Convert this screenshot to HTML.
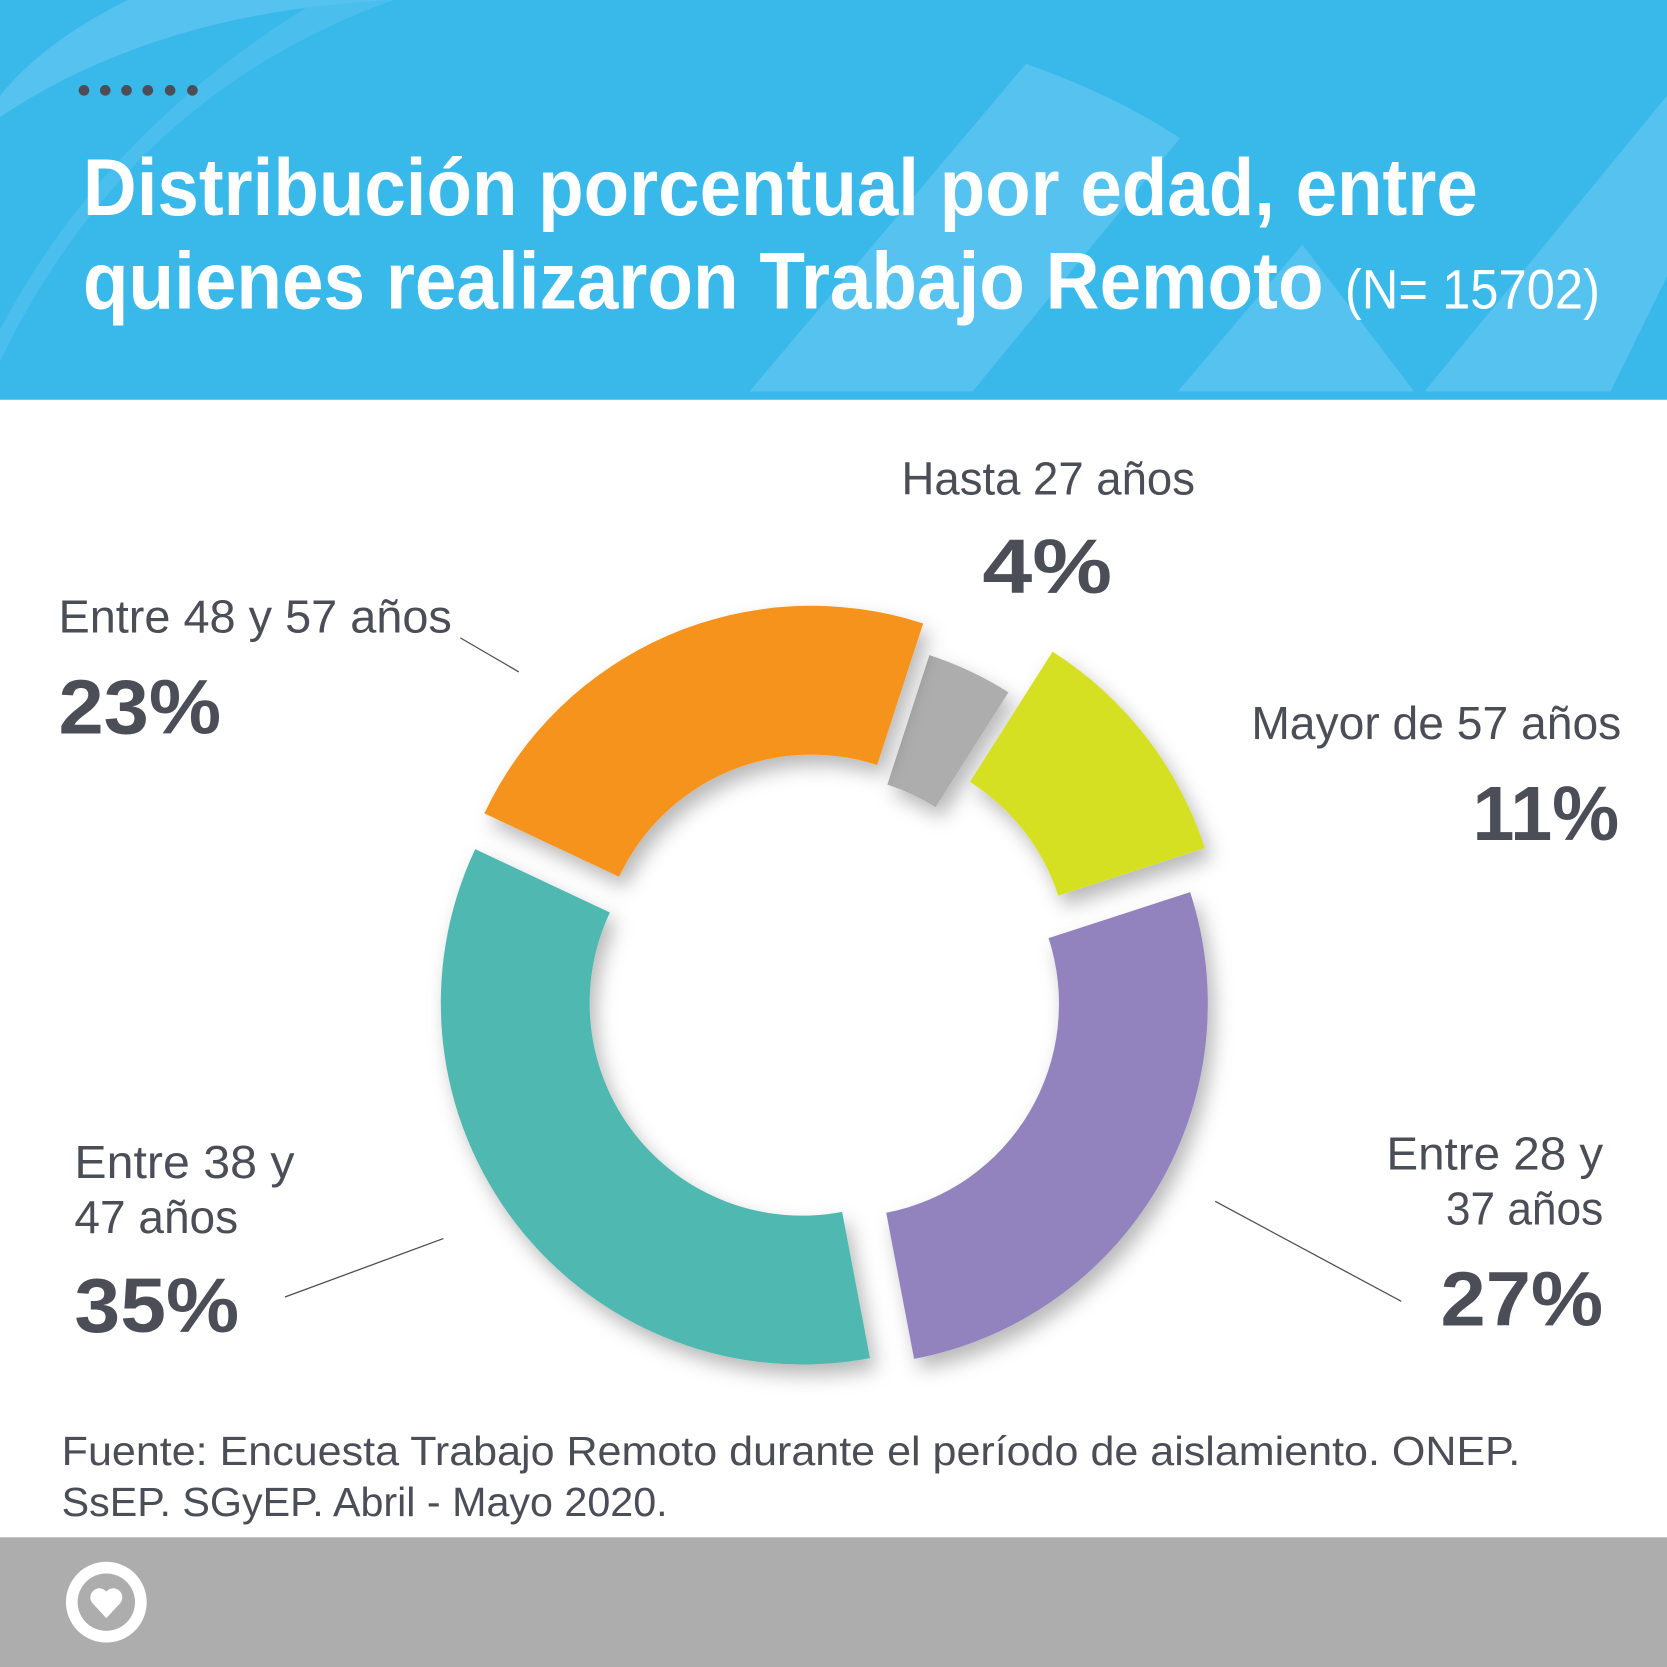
<!DOCTYPE html>
<html><head><meta charset="utf-8"><style>
html,body{margin:0;padding:0;background:#fff}
svg{display:block}
text{font-family:"Liberation Sans",sans-serif}
</style></head><body>
<svg width="1667" height="1667" viewBox="0 0 1568 1568" xmlns="http://www.w3.org/2000/svg">
<defs>
<filter id="sh" x="-20%" y="-20%" width="140%" height="140%"><feDropShadow dx="6" dy="10" stdDeviation="9" flood-color="#000" flood-opacity="0.28"/></filter>
</defs>
<rect x="0" y="0" width="1568" height="376" fill="#39b8ea"/>
<g fill="#5cc5f0" opacity="0.85">
<path d="M0 110 Q150 10 370 0 L120 0 Q40 40 0 90 Z"/>
<path d="M0 340 Q120 90 370 0 L300 0 Q100 120 0 310 Z" opacity="0.6"/>
<path d="M705 368 L965 60 Q1050 90 1110 130 L915 368 Z"/>
<path d="M1108 368 L1225 230 L1330 368 Z"/>
<path d="M1340 368 L1568 90 L1568 260 L1515 368 Z"/>
</g>
<g fill="#4b4d57">
<circle cx="79" cy="85" r="5"/><circle cx="99" cy="85" r="5"/><circle cx="119" cy="85" r="5"/><circle cx="139" cy="85" r="5"/><circle cx="160" cy="85" r="5"/><circle cx="181" cy="85" r="5"/>
</g>
<text x="78" y="202" font-size="76" font-weight="bold" fill="#fff" textLength="1312" lengthAdjust="spacingAndGlyphs">Distribución porcentual por edad, entre</text>
<text x="78" y="290" font-size="76" font-weight="bold" fill="#fff" textLength="1167" lengthAdjust="spacingAndGlyphs">quienes realizaron Trabajo Remoto</text>
<text x="1265" y="290" font-size="52" fill="#fff" textLength="240" lengthAdjust="spacingAndGlyphs">(N= 15702)</text>

<g id="donut"></g>

<g stroke="#4b4d57" stroke-width="1.2">
<line x1="433" y1="600" x2="488" y2="632"/>
<line x1="1143" y1="1130" x2="1318" y2="1224"/>
<line x1="268" y1="1220" x2="417" y2="1165"/>
</g>
<g fill="#4b4d57" font-size="44">
<text x="848" y="465" textLength="276" lengthAdjust="spacingAndGlyphs">Hasta 27 años</text>
<text x="924" y="558" font-size="72" font-weight="bold" textLength="122" lengthAdjust="spacingAndGlyphs">4%</text>
<text x="55" y="595" textLength="370" lengthAdjust="spacingAndGlyphs">Entre 48 y 57 años</text>
<text x="55" y="690" font-size="72" font-weight="bold" textLength="153" lengthAdjust="spacingAndGlyphs">23%</text>
<text x="1177" y="695" textLength="348" lengthAdjust="spacingAndGlyphs">Mayor de 57 años</text>
<text x="1385" y="790" font-size="72" font-weight="bold" textLength="138" lengthAdjust="spacingAndGlyphs">11%</text>
<text x="1304" y="1100" textLength="204" lengthAdjust="spacingAndGlyphs">Entre 28 y</text>
<text x="1360" y="1152" textLength="148" lengthAdjust="spacingAndGlyphs">37 años</text>
<text x="1355" y="1247" font-size="72" font-weight="bold" textLength="153" lengthAdjust="spacingAndGlyphs">27%</text>
<text x="70" y="1108" textLength="207" lengthAdjust="spacingAndGlyphs">Entre 38 y</text>
<text x="70" y="1160" textLength="154" lengthAdjust="spacingAndGlyphs">47 años</text>
<text x="70" y="1253" font-size="72" font-weight="bold" textLength="155" lengthAdjust="spacingAndGlyphs">35%</text>
<text x="58" y="1378" font-size="38" textLength="1372" lengthAdjust="spacingAndGlyphs">Fuente: Encuesta Trabajo Remoto durante el período de aislamiento. ONEP.</text>
<text x="58" y="1426" font-size="38" textLength="570" lengthAdjust="spacingAndGlyphs">SsEP. SGyEP. Abril - Mayo 2020.</text>
</g>
<rect x="0" y="1446" width="1568" height="122" fill="#adadad"/>
<g>
<circle cx="100" cy="1507" r="38" fill="#fff"/>
<circle cx="100" cy="1507" r="27" fill="#adadad"/>
<path d="M100 1522 L87 1508 A8 8 0 0 1 100 1497 A8 8 0 0 1 113 1508 Z" fill="#fff"/>
</g>
</svg>
<script>
const categories = ["Hasta 27 años","Mayor de 57 años","Entre 28 y 37 años","Entre 38 y 47 años","Entre 48 y 57 años"];
const values = [4, 11, 27, 35, 23];
const colors = ["#adadad","#d5e021","#9283be","#50b8b1","#f5931f"];
const explodes = [2, 42, 28, 22, 22];
const outerRadii = [328, 345, 340, 340, 340];
const cx=772, cy=930, rIn=200, startDeg=18;
const g=document.getElementById('donut');
const total=values.reduce((a,b)=>a+b,0);
function pt(r,deg,ox,oy){const a=deg*Math.PI/180;return [cx+ox+r*Math.sin(a), cy+oy-r*Math.cos(a)];}
let acc=startDeg;
values.forEach((v,i)=>{
  const a0=acc, a1=acc+v/total*360; acc=a1;
  const mid=(a0+a1)/2*Math.PI/180;
  const ex=explodes[i], rOut=outerRadii[i];
  const ox=ex*Math.sin(mid), oy=-ex*Math.cos(mid);
  const large=(a1-a0)>180?1:0;
  const p1=pt(rOut,a0,ox,oy),p2=pt(rOut,a1,ox,oy),p3=pt(rIn,a1,ox,oy),p4=pt(rIn,a0,ox,oy);
  const d=`M${p1} A${rOut} ${rOut} 0 ${large} 1 ${p2} L${p3} A${rIn} ${rIn} 0 ${large} 0 ${p4} Z`;
  const p=document.createElementNS('http://www.w3.org/2000/svg','path');
  p.setAttribute('d',d);p.setAttribute('fill',colors[i]);p.setAttribute('filter','url(#sh)');
  
  
  g.appendChild(p);
});
</script>
</body></html>
